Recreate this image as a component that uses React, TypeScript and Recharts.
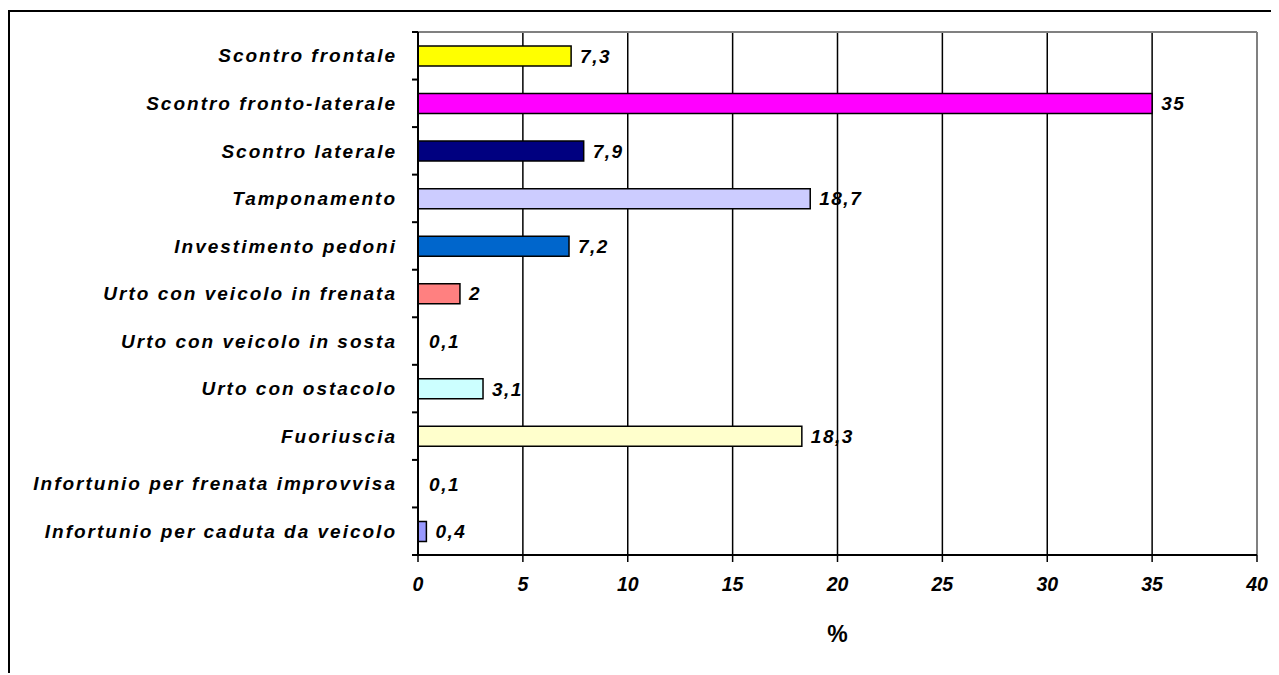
import React from 'react';
import {
    BarChart,
    Bar,
    XAxis,
    YAxis,
    CartesianGrid,
    ReferenceLine,
    LabelList,
    Cell,
} from 'recharts';

const categories = [
    'Scontro frontale',
    'Scontro fronto-laterale',
    'Scontro laterale',
    'Tamponamento',
    'Investimento pedoni',
    'Urto con veicolo in frenata',
    'Urto con veicolo in sosta',
    'Urto con ostacolo',
    'Fuoriuscia',
    'Infortunio per frenata improvvisa',
    'Infortunio per caduta da veicolo',
];
const values = [7.3, 35, 7.9, 18.7, 7.2, 2, 0.1, 3.1, 18.3, 0.1, 0.4];
const colors = [
    '#FFFF00',
    '#FF00FF',
    '#000080',
    '#CCCCFF',
    '#0066CC',
    '#FF8080',
    'none',
    '#CCFFFF',
    '#FFFFCC',
    'none',
    '#9999FF',
];
const xTicks = [0, 5, 10, 15, 20, 25, 30, 35, 40];

const data = categories.map((name, i) => ({ name, value: values[i] }));

const FONT = '"Liberation Sans", Arial, sans-serif';
const HALF_BAND = 523 / categories.length / 2;

// category label + tick marks on the band boundaries (Excel style)
const CategoryTick = (props: any) => {
    const { x, y, payload, index } = props;
    const ax = Number(x) + 21;
    const cy = Number(y);
    return (
        <g>
            <rect x={ax - 6} y={cy - HALF_BAND - 1} width={6} height={2} fill="#000" />
            {index === categories.length - 1 && (
                <rect x={ax - 6} y={cy + HALF_BAND - 1} width={6} height={2} fill="#000" />
            )}
            <text
                x={Number(x)}
                y={cy}
                dy="0.35em"
                textAnchor="end"
                fontFamily={FONT}
                fontSize={19}
                letterSpacing={2}
                fontWeight="bold"
                fontStyle="italic"
                fill="#000"
            >
                {payload.value}
            </text>
        </g>
    );
};

export default function App() {
    return (
        <div
            style={{
                position: 'relative',
                top: 2,
                width: 1263,
                height: 665,
                borderTop: '2px solid #000',
                borderLeft: '2px solid #000',
                boxSizing: 'border-box',
                background: '#fff',
            }}
        >
            <style>{'body{overflow:hidden}'}</style>
            <BarChart
                layout="vertical"
                width={1261}
                height={663}
                data={data}
                margin={{ top: 20, right: 14, left: 0, bottom: 20 }}
                barCategoryGap={0}
            >
                <CartesianGrid horizontal={false} stroke="#000" strokeWidth={1.5} />
                <XAxis
                    type="number"
                    domain={[0, 40]}
                    ticks={xTicks}
                    interval={0}
                    height={100}
                    tickSize={7}
                    tickMargin={15}
                    axisLine={{ stroke: '#000', strokeWidth: 2 }}
                    tickLine={{ stroke: '#000', strokeWidth: 1.5 }}
                    tick={{
                        fill: '#000',
                        fontFamily: FONT,
                        fontSize: 19.5,
                        fontWeight: 'bold',
                        fontStyle: 'italic',
                    }}
                    label={{
                        value: '%',
                        position: 'insideBottom',
                        offset: 13,
                        fill: '#000',
                        fontFamily: FONT,
                        fontSize: 23,
                        fontWeight: 'bold',
                    }}
                />
                <YAxis
                    type="category"
                    dataKey="name"
                    width={408}
                    tickSize={6}
                    tickMargin={15}
                    tickLine={false}
                    interval={0}
                    axisLine={{ stroke: '#000', strokeWidth: 2 }}
                    tick={<CategoryTick />}
                />
                {/* grey frame of the plot area (top and right) */}
                <ReferenceLine y={categories[0]} position="start" stroke="#808080" strokeWidth={2} />
                <ReferenceLine x={40} stroke="#808080" strokeWidth={2} />
                <Bar
                    dataKey="value"
                    barSize={20}
                    stroke="#000"
                    strokeWidth={1.5}
                    isAnimationActive={false}
                >
                    {data.map((d, i) => (
                        <Cell
                            key={d.name}
                            fill={colors[i]}
                            stroke={colors[i] === 'none' ? 'none' : '#000'}
                        />
                    ))}
                    <LabelList
                        dataKey="value"
                        position="right"
                        offset={9}
                        formatter={(v: any) => String(v).replace('.', ',')}
                        style={{
                            fill: '#000',
                            fontFamily: FONT,
                            fontSize: 19,
                            letterSpacing: 1.5,
                            fontWeight: 'bold',
                            fontStyle: 'italic',
                        }}
                    />
                </Bar>
            </BarChart>
        </div>
    );
}
